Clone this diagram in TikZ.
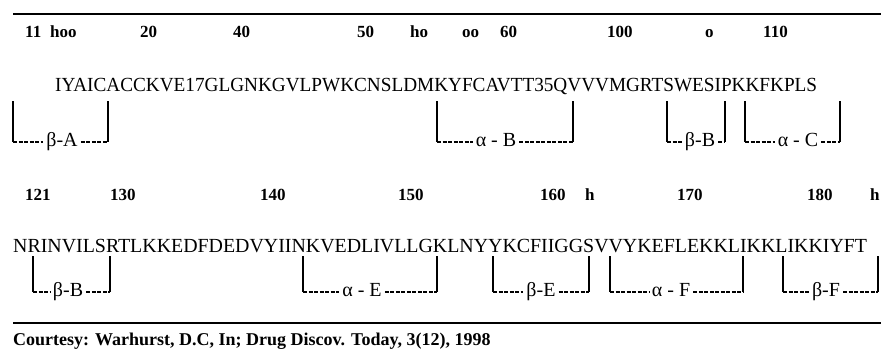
\documentclass[tikz,border=0pt]{standalone}
\usepackage{fontspec}
\usepackage{graphicx}
\setmainfont{Liberation Serif}
\newcommand\segbrk[8]{%
  \coordinate (#1tl) at (#2,#4);
  \coordinate (#1bl) at (#2,#5);
  \coordinate (#1tr) at (#3,#4);
  \coordinate (#1br) at (#3,#5);
  \node[seglabel] (#1lab) at (#6,#7) {#8};
  \draw[vbar] (#1tl) -- (#1bl);
  \draw[vbar] (#1tr) -- (#1br);
  \draw[hdash] (#1bl) -- (#1lab.west |- #1bl);
  \draw[hdash] (#1lab.east |- #1br) -- (#1br);
}
\begin{document}
\begin{tikzpicture}[x=1pt,y=-1pt,
  seq/.style={anchor=base west, inner sep=0pt, font=\fontsize{20}{22}\selectfont},
  num/.style={anchor=base west, inner sep=0pt, font=\fontsize{17}{19}\selectfont\bfseries},
  seglabel/.style={anchor=base, inner xsep=3pt, inner ysep=0pt, font=\fontsize{20}{22}\selectfont},
  vbar/.style={line width=2.3pt},
  hdash/.style={line width=1.3pt, dash pattern=on 4pt off 1.5pt},
  rulel/.style={line width=2.5pt},
  credit/.style={anchor=base west, inner sep=0pt, font=\fontsize{18}{20}\selectfont\bfseries}]
\useasboundingbox (0,0) rectangle (881,356);
% top rule
\coordinate (topL) at (13,14);
\coordinate (topR) at (881,14);
\draw[rulel] (topL) -- (topR);
% row 1 numbers
\node[num] (n11) at (25,37) {11};
\node[num] (nhoo) at (50,37) {hoo};
\node[num] (n20) at (140,37) {20};
\node[num] (n40) at (233,37) {40};
\node[num] (n50) at (357,37) {50};
\node[num] (nho) at (410,37) {ho};
\node[num] (noo) at (462,37) {oo};
\node[num] (n60) at (500,37) {60};
\node[num] (n100) at (607,37) {100};
\node[num] (no) at (705,37) {o};
\node[num] (n110) at (763,37) {110};
% row 1 sequence
\node[seq] (seq1) at (55,91) {\resizebox{762pt}{\height}{IYAICACCKVE17GLGNKGVLPWKCNSLDMKYFCAVTT35QVVVMGRTSWESIPKKFKPLS}};
% row 1 brackets
\segbrk{bA}{13}{108}{101}{142}{62}{146}{β-A}
\segbrk{aB}{437}{573}{101}{142}{496}{146}{α - B}
\segbrk{bB}{667}{725}{101}{142}{700}{146}{β-B}
\segbrk{aC}{745}{840}{101}{142}{798}{146}{α - C}
% row 2 numbers
\node[num] (n121) at (25,200) {121};
\node[num] (n130) at (110,200) {130};
\node[num] (n140) at (260,200) {140};
\node[num] (n150) at (398,200) {150};
\node[num] (n160) at (540,200) {160};
\node[num] (nh1) at (585,200) {h};
\node[num] (n170) at (677,200) {170};
\node[num] (n180) at (807,200) {180};
\node[num] (nh2) at (870,200) {h};
% row 2 sequence
\node[seq] (seq2) at (13,252) {\resizebox{854pt}{\height}{NRINVILSRTLKKEDFDEDVYIINKVEDLIVLLGKLNYYKCFIIGGSVVYKEFLEKKLIKKLIKKIYFT}};
% row 2 brackets
\segbrk{bB2}{33}{110}{256}{292}{68}{296}{β-B}
\segbrk{aE}{303}{437}{256}{292}{362}{296}{α - E}
\segbrk{bE}{493}{589}{256}{292}{541}{296}{β-E}
\segbrk{aF}{610}{743}{256}{292}{671}{296}{α - F}
\segbrk{bF}{783}{878}{256}{292}{826}{296}{β-F}
% bottom rule
\coordinate (botL) at (13,323);
\coordinate (botR) at (881,323);
\draw[rulel] (botL) -- (botR);
\node[credit] (courtesy) at (13,345) {Courtesy: Warhurst, D.C, In; Drug Discov. Today, 3(12), 1998};
\end{tikzpicture}
\end{document}
